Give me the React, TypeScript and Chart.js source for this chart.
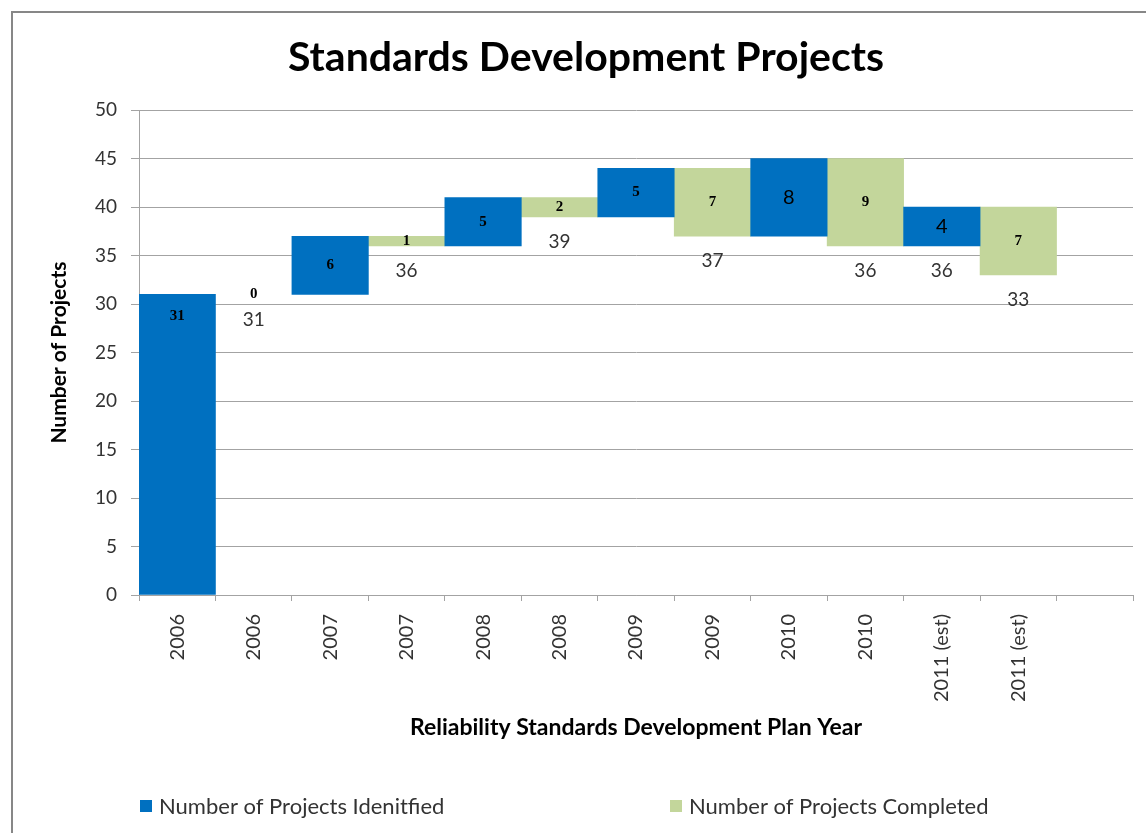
import React, { useEffect, useRef } from 'react';
import { Chart, registerables } from 'chart.js';

Chart.register(...registerables);

// ---- data ----
const categories = ['2006', '2006', '2007', '2007', '2008', '2008', '2009', '2009', '2010', '2010', '2011 (est)', '2011 (est)', ''];
const identifiedStart = [0, null, 31, null, 36, null, 39, null, 37, null, 36, null, null];
const identifiedEnd = [31, null, 37, null, 41, null, 44, null, 45, null, 40, null, null];
const completedStart = [null, 31, null, 36, null, 39, null, 37, null, 36, null, 33, null];
const completedEnd = [null, 31, null, 37, null, 41, null, 44, null, 45, null, 40, null];
const runningTotals = [null, 31, null, 36, null, 39, null, 37, null, 36, 36, 33, null];
const seriesNames = ['Number of Projects Idenitfied', 'Number of Projects Completed'];

// ---- styles ----
const BLUE = '#0070C0';
const GREEN = '#C3D69B';
const SERIES_COLORS = [BLUE, GREEN];
const GRID = '#a3a3a3';
const TEXT = '#333333';
const FONT = 'Lato, "Open Sans", sans-serif';
// indices (identified series) whose value label is drawn in the larger sans font
const largeLabelIndices = new Set([8, 10]);

const toFloating = (s: (number | null)[], e: (number | null)[]) =>
  s.map((v, i) => (v == null || e[i] == null ? null : [v, e[i] as number]));

const framePlugin = {
  id: 'frame',
  beforeDraw(chart: any) {
    const { ctx, width, height } = chart;
    ctx.save();
    ctx.fillStyle = '#ffffff';
    ctx.fillRect(0, 0, width, height);
    ctx.fillStyle = '#878787';
    ctx.fillRect(11, 11, width, 2);
    ctx.fillRect(11, 11, 2, height);
    ctx.restore();
  },
};

const valueLabelPlugin = {
  id: 'valueLabels',
  afterDatasetsDraw(chart: any) {
    const { ctx } = chart;
    ctx.save();
    ctx.textAlign = 'center';
    ctx.textBaseline = 'middle';
    ctx.fillStyle = '#000';
    chart.data.datasets.forEach((ds: any, di: number) => {
      const meta = chart.getDatasetMeta(di);
      meta.data.forEach((el: any, i: number) => {
        const v = ds.data[i];
        if (!v) return;
        const value = v[1] - v[0];
        const top = Math.min(el.y, el.base);
        const h = Math.abs(el.base - el.y);
        // very tall bars carry their label near the top, others centred
        const y = h > 120 ? top + 22 : (el.y + el.base) / 2;
        if (di === 0 && largeLabelIndices.has(i)) {
          ctx.font = `20px ${FONT}`;
        } else {
          ctx.font = 'bold 15px "Liberation Serif", serif';
        }
        ctx.fillText(String(value), el.x, y);
      });
    });
    const xs = chart.scales.x;
    const ys = chart.scales.y;
    ctx.font = `19px ${FONT}`;
    ctx.fillStyle = TEXT;
    runningTotals.forEach((t, i) => {
      if (t == null) return;
      ctx.fillText(String(t), xs.getPixelForValue(i), ys.getPixelForValue(t) + 25);
    });
    ctx.restore();
  },
};

const legendPlugin = {
  id: 'bottomLegend',
  afterDraw(chart: any) {
    const { ctx, width, height } = chart;
    ctx.save();
    ctx.font = `22px ${FONT}`;
    ctx.textAlign = 'left';
    ctx.textBaseline = 'middle';
    const cx = width / 2;
    const y = height - 27;
    const offsets = [-433, 97];
    chart.data.datasets.forEach((ds: any, i: number) => {
      const x0 = cx + offsets[i];
      ctx.fillStyle = SERIES_COLORS[i];
      ctx.fillRect(x0, y - 6, 12, 12);
      ctx.fillStyle = TEXT;
      ctx.fillText(ds.label, x0 + 19, y + 1);
    });
    ctx.restore();
  },
};

export default function App() {
  const canvasRef = useRef<HTMLCanvasElement | null>(null);

  useEffect(() => {
    const canvas = canvasRef.current;
    if (!canvas) return;
    const chart = new Chart(canvas, {
      type: 'bar',
      data: {
        labels: categories,
        datasets: [
          {
            label: seriesNames[0],
            data: toFloating(identifiedStart, identifiedEnd) as any,
            backgroundColor: BLUE,
            grouped: false,
            barPercentage: 1,
            categoryPercentage: 1,
          } as any,
          {
            label: seriesNames[1],
            data: toFloating(completedStart, completedEnd) as any,
            backgroundColor: (c: any) => {
              const v = c.raw;
              return v && v[0] === v[1] ? 'rgba(0,0,0,0)' : GREEN;
            },
            grouped: false,
            barPercentage: 1,
            categoryPercentage: 1,
          } as any,
        ],
      },
      options: {
        responsive: false,
        devicePixelRatio: 1,
        animation: false,
        layout: { padding: { left: 39, right: 13, top: 0, bottom: 92 } },
        plugins: {
          legend: { display: false },
          tooltip: { enabled: false },
          title: {
            display: true,
            text: 'Standards Development Projects',
            color: '#000',
            font: { family: FONT, size: 41, weight: 'bold' },
            padding: { top: 33, bottom: 28 },
          },
        },
        scales: {
          x: {
            offset: true,
            grid: {
              offset: true,
              drawOnChartArea: false,
              drawTicks: true,
              tickLength: 6,
              color: GRID,
            },
            border: { color: GRID },
            ticks: {
              autoSkip: false,
              minRotation: 90,
              maxRotation: 90,
              padding: 13,
              color: TEXT,
              font: { family: FONT, size: 20 },
            },
            title: {
              display: true,
              text: 'Reliability Standards Development Plan Year',
              color: '#000',
              font: { family: FONT, size: 23, weight: 'bold' },
              padding: { top: 4, bottom: 0 },
            },
            afterFit(scale: any) {
              scale.height = 146;
            },
          },
          y: {
            min: 0,
            max: 50,
            ticks: {
              stepSize: 5,
              padding: 14,
              color: TEXT,
              font: { family: FONT, size: 19 },
            },
            grid: { color: GRID, tickLength: 8 },
            border: { color: GRID },
            title: {
              display: true,
              text: 'Number of Projects',
              color: '#000',
              font: { family: FONT, size: 21, weight: 'bold' },
              padding: { top: 8, bottom: 0 },
            },
            afterFit(scale: any) {
              scale.width = 100;
            },
          },
        },
      } as any,
      plugins: [framePlugin, valueLabelPlugin, legendPlugin],
    });
    return () => chart.destroy();
  }, []);

  return (
    <div style={{ position: 'absolute', left: 0, top: 0, width: 1146, height: 833 }}>
      <canvas ref={canvasRef} width={1146} height={833} style={{ display: 'block' }} />
    </div>
  );
}
